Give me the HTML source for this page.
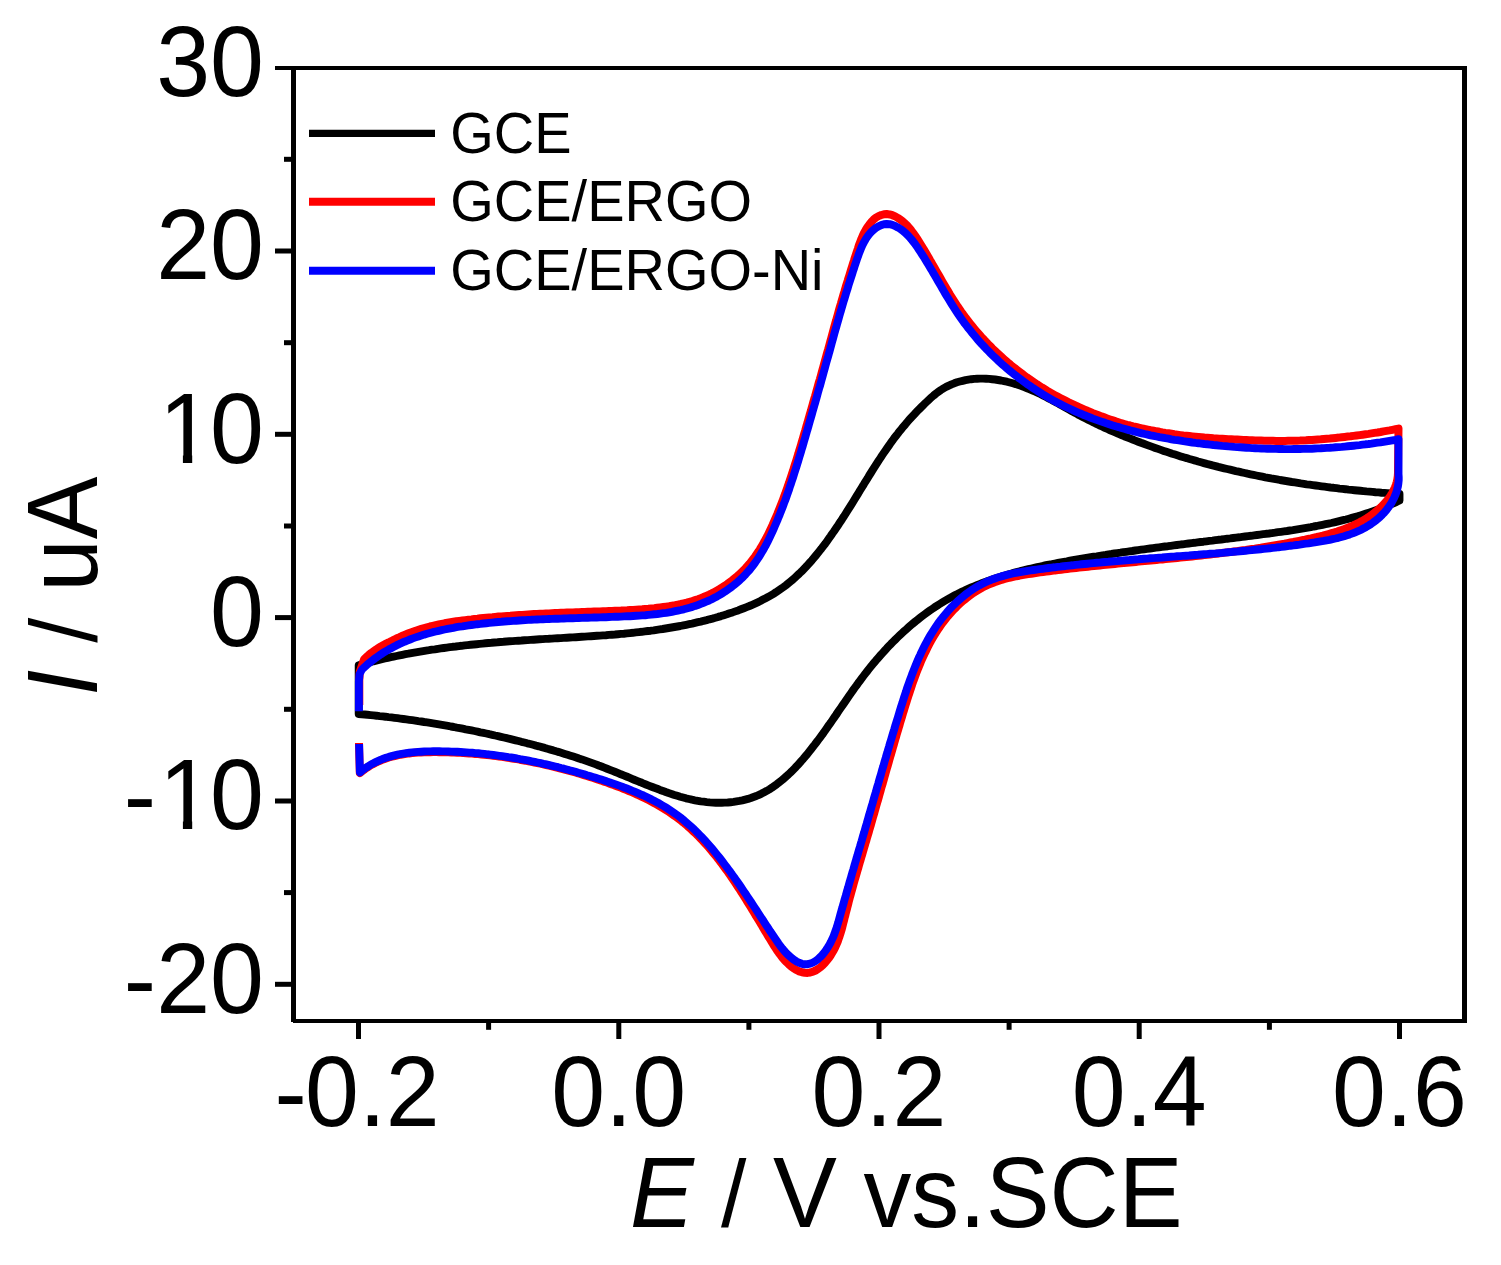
<!DOCTYPE html>
<html lang="en">
<head>
<meta charset="utf-8">
<title>Cyclic voltammograms: GCE, GCE/ERGO, GCE/ERGO-Ni</title>
<style>
html,body{margin:0;padding:0;background:#fff;}
body{width:1501px;height:1265px;overflow:hidden;}
svg{display:block;}
</style>
</head>
<body>
<svg width="1501" height="1265" viewBox="0 0 1501 1265">
<rect width="1501" height="1265" fill="#fff"/>
<g fill="none" stroke-linejoin="round" stroke-linecap="butt">
<path d="M358.7 668.0L358.7 665.2L361.6 664.4L364.5 663.6L367.4 662.8L370.3 662.1L373.2 661.3L376.1 660.6L379.0 659.9L381.9 659.2L384.9 658.5L387.8 657.9L390.7 657.2L393.6 656.6L396.6 656.0L399.5 655.4L402.4 654.8L405.4 654.2L408.3 653.7L411.3 653.1L414.2 652.6L417.2 652.1L420.1 651.6L423.1 651.1L426.0 650.6L429.0 650.2L431.9 649.7L434.9 649.3L437.9 648.8L440.8 648.4L443.8 648.0L446.8 647.6L449.7 647.2L452.7 646.8L455.7 646.5L458.7 646.1L461.6 645.8L464.6 645.4L467.6 645.1L470.6 644.8L473.6 644.5L476.6 644.2L479.5 643.9L482.5 643.6L485.5 643.3L488.5 643.0L491.5 642.8L494.5 642.5L497.5 642.3L500.5 642.0L503.5 641.8L506.5 641.5L509.5 641.3L512.5 641.1L515.5 640.9L518.5 640.7L521.5 640.5L524.6 640.2L527.6 640.1L530.6 639.9L533.6 639.7L536.6 639.5L539.6 639.3L542.6 639.1L545.6 638.9L548.6 638.8L551.7 638.6L554.7 638.4L557.7 638.2L560.7 638.1L563.7 637.9L566.7 637.7L569.8 637.5L572.8 637.4L575.8 637.2L578.8 637.0L581.8 636.8L584.8 636.6L587.8 636.4L590.9 636.2L593.9 636.0L596.9 635.8L599.9 635.6L602.9 635.4L605.9 635.2L608.9 634.9L611.9 634.7L614.9 634.5L617.9 634.2L620.9 633.9L623.9 633.7L626.9 633.4L629.9 633.1L632.9 632.8L635.9 632.4L638.9 632.1L641.8 631.8L644.8 631.4L647.8 631.0L650.8 630.7L653.7 630.3L656.7 629.8L659.7 629.4L662.6 629.0L665.6 628.5L668.5 628.0L671.5 627.5L674.4 627.0L677.4 626.5L680.3 626.0L683.3 625.4L686.2 624.8L689.1 624.2L692.1 623.6L695.0 622.9L697.9 622.2L700.8 621.6L703.7 620.8L706.6 620.1L709.5 619.3L712.4 618.6L715.3 617.8L718.2 616.9L721.0 616.1L723.9 615.2L726.8 614.3L729.6 613.3L732.5 612.4L735.3 611.4L738.2 610.4L741.0 609.3L743.8 608.2L746.6 607.1L749.4 606.0L752.2 604.8L754.9 603.6L757.7 602.3L760.4 601.0L763.0 599.6L765.7 598.2L768.3 596.8L770.9 595.3L773.5 593.8L776.0 592.2L778.5 590.5L781.0 588.8L783.4 587.1L785.8 585.3L788.2 583.4L790.5 581.5L792.8 579.6L795.0 577.6L797.2 575.5L799.4 573.5L801.6 571.4L803.7 569.2L805.8 567.0L807.8 564.8L809.9 562.5L811.9 560.3L813.8 558.0L815.8 555.6L817.7 553.3L819.6 550.9L821.5 548.5L823.3 546.1L825.2 543.7L827.0 541.2L828.7 538.8L830.5 536.3L832.2 533.8L834.0 531.3L835.7 528.8L837.4 526.3L839.0 523.8L840.7 521.3L842.3 518.8L844.0 516.3L845.6 513.7L847.2 511.2L848.8 508.7L850.4 506.1L852.0 503.6L853.6 501.0L855.1 498.5L856.7 495.9L858.3 493.4L859.8 490.8L861.4 488.2L863.0 485.7L864.5 483.1L866.1 480.6L867.7 478.1L869.2 475.5L870.8 473.0L872.4 470.4L874.0 467.9L875.6 465.4L877.2 462.9L878.8 460.4L880.5 457.9L882.1 455.4L883.8 452.9L885.5 450.5L887.2 448.0L888.9 445.6L890.6 443.1L892.4 440.7L894.1 438.3L895.9 436.0L897.8 433.6L899.6 431.2L901.5 428.9L903.4 426.6L905.4 424.3L907.3 422.0L909.3 419.7L911.3 417.5L913.4 415.3L915.5 413.0L917.6 410.8L919.8 408.6L922.0 406.4L924.2 404.2L926.5 402.0L928.8 399.8L931.1 397.7L933.5 395.6L935.9 393.6L938.4 391.8L940.9 390.0L943.5 388.4L946.1 386.9L948.8 385.6L951.5 384.4L954.2 383.3L957.0 382.3L959.8 381.5L962.7 380.8L965.5 380.1L968.4 379.6L971.3 379.2L974.3 378.9L977.2 378.7L980.2 378.6L983.1 378.6L986.1 378.7L989.1 378.9L992.1 379.2L995.1 379.5L998.0 380.0L1001.0 380.5L1004.0 381.1L1006.9 381.7L1009.9 382.5L1012.8 383.3L1015.7 384.1L1018.6 385.1L1021.5 386.0L1024.3 387.1L1027.1 388.2L1029.9 389.3L1032.7 390.5L1035.4 391.7L1038.1 393.0L1040.8 394.3L1043.5 395.7L1046.2 397.0L1048.8 398.4L1051.5 399.8L1054.1 401.3L1056.8 402.7L1059.4 404.2L1062.0 405.6L1064.6 407.1L1067.3 408.6L1069.9 410.0L1072.5 411.5L1075.2 412.9L1077.8 414.4L1080.4 415.8L1083.1 417.2L1085.8 418.6L1088.5 420.0L1091.2 421.3L1093.9 422.6L1096.6 424.0L1099.3 425.3L1102.0 426.5L1104.8 427.8L1107.5 429.0L1110.3 430.3L1113.0 431.5L1115.8 432.7L1118.6 433.9L1121.4 435.0L1124.2 436.2L1127.0 437.3L1129.8 438.4L1132.6 439.5L1135.4 440.6L1138.2 441.7L1141.0 442.8L1143.8 443.8L1146.7 444.9L1149.5 445.9L1152.3 446.9L1155.2 447.9L1158.0 448.9L1160.8 449.9L1163.7 450.9L1166.5 451.8L1169.4 452.7L1172.2 453.7L1175.1 454.6L1178.0 455.5L1180.8 456.4L1183.7 457.3L1186.6 458.1L1189.5 459.0L1192.3 459.8L1195.2 460.6L1198.1 461.5L1201.0 462.3L1203.9 463.1L1206.8 463.9L1209.7 464.6L1212.6 465.4L1215.5 466.1L1218.4 466.9L1221.3 467.6L1224.2 468.3L1227.2 469.0L1230.1 469.7L1233.0 470.4L1235.9 471.1L1238.8 471.7L1241.8 472.4L1244.7 473.0L1247.6 473.7L1250.6 474.3L1253.5 474.9L1256.4 475.5L1259.4 476.1L1262.3 476.7L1265.3 477.3L1268.2 477.8L1271.2 478.4L1274.1 478.9L1277.1 479.4L1280.0 480.0L1283.0 480.5L1286.0 481.0L1288.9 481.5L1291.9 482.0L1294.9 482.4L1297.8 482.9L1300.8 483.4L1303.8 483.8L1306.7 484.3L1309.7 484.7L1312.7 485.1L1315.7 485.5L1318.7 485.9L1321.6 486.3L1324.6 486.7L1327.6 487.1L1330.6 487.5L1333.6 487.8L1336.6 488.2L1339.5 488.6L1342.5 488.9L1345.5 489.2L1348.5 489.6L1351.5 489.9L1354.5 490.2L1357.5 490.5L1360.5 490.8L1363.5 491.1L1366.5 491.4L1369.5 491.6L1372.5 491.9L1375.5 492.2L1378.5 492.4L1381.5 492.7L1384.5 492.9L1387.5 493.1L1390.5 493.4L1393.5 493.6L1396.5 493.8L1399.5 494.0L1399.5 500.5L1396.8 501.8L1394.0 503.0L1391.3 504.2L1388.5 505.4L1385.8 506.5L1383.0 507.6L1380.2 508.7L1377.4 509.7L1374.6 510.7L1371.8 511.7L1368.9 512.7L1366.1 513.6L1363.2 514.5L1360.4 515.4L1357.5 516.3L1354.7 517.1L1351.8 517.9L1348.9 518.7L1346.0 519.5L1343.1 520.2L1340.2 520.9L1337.3 521.6L1334.3 522.3L1331.4 523.0L1328.5 523.6L1325.5 524.2L1322.6 524.8L1319.7 525.4L1316.7 526.0L1313.7 526.5L1310.8 527.1L1307.8 527.6L1304.9 528.1L1301.9 528.6L1298.9 529.1L1295.9 529.6L1292.9 530.1L1290.0 530.5L1287.0 531.0L1284.0 531.4L1281.0 531.8L1278.0 532.2L1275.0 532.7L1272.0 533.1L1269.0 533.5L1266.1 533.8L1263.1 534.2L1260.1 534.6L1257.1 535.0L1254.1 535.4L1251.1 535.8L1248.1 536.1L1245.1 536.5L1242.2 536.9L1239.2 537.3L1236.2 537.6L1233.2 538.0L1230.2 538.4L1227.3 538.7L1224.3 539.1L1221.3 539.5L1218.3 539.8L1215.4 540.2L1212.4 540.6L1209.4 540.9L1206.4 541.3L1203.5 541.7L1200.5 542.0L1197.5 542.4L1194.6 542.8L1191.6 543.1L1188.6 543.5L1185.7 543.9L1182.7 544.3L1179.7 544.6L1176.8 545.0L1173.8 545.4L1170.8 545.8L1167.9 546.2L1164.9 546.5L1162.0 546.9L1159.0 547.3L1156.0 547.7L1153.1 548.1L1150.1 548.5L1147.1 548.9L1144.2 549.3L1141.2 549.7L1138.2 550.1L1135.3 550.5L1132.3 551.0L1129.3 551.4L1126.4 551.8L1123.4 552.2L1120.4 552.7L1117.5 553.1L1114.5 553.5L1111.5 554.0L1108.6 554.4L1105.6 554.9L1102.6 555.3L1099.7 555.8L1096.7 556.3L1093.7 556.7L1090.7 557.2L1087.8 557.7L1084.8 558.2L1081.8 558.7L1078.8 559.2L1075.8 559.7L1072.8 560.2L1069.9 560.7L1066.9 561.3L1063.9 561.8L1060.9 562.3L1057.9 562.9L1055.0 563.5L1052.0 564.1L1049.0 564.6L1046.0 565.2L1043.1 565.9L1040.1 566.5L1037.2 567.1L1034.2 567.8L1031.3 568.5L1028.3 569.2L1025.4 569.9L1022.5 570.6L1019.5 571.4L1016.6 572.1L1013.7 572.9L1010.8 573.7L1007.9 574.5L1005.0 575.4L1002.2 576.3L999.3 577.2L996.5 578.1L993.6 579.0L990.8 580.0L988.0 581.0L985.2 582.0L982.4 583.0L979.6 584.1L976.8 585.2L974.1 586.3L971.3 587.5L968.6 588.7L965.9 589.9L963.2 591.2L960.5 592.4L957.9 593.8L955.2 595.1L952.6 596.5L950.0 597.9L947.4 599.4L944.8 600.9L942.3 602.4L939.7 604.0L937.2 605.6L934.7 607.2L932.3 608.9L929.8 610.6L927.4 612.3L924.9 614.1L922.5 615.9L920.2 617.7L917.8 619.6L915.5 621.4L913.1 623.4L910.8 625.3L908.5 627.3L906.3 629.3L904.0 631.3L901.8 633.3L899.6 635.4L897.4 637.5L895.3 639.6L893.1 641.8L891.0 643.9L888.9 646.1L886.8 648.3L884.8 650.5L882.7 652.8L880.7 655.0L878.7 657.3L876.7 659.6L874.8 661.9L872.8 664.2L870.9 666.5L869.0 668.9L867.2 671.2L865.3 673.6L863.5 676.0L861.7 678.4L859.9 680.8L858.1 683.2L856.4 685.6L854.6 688.0L852.9 690.4L851.2 692.9L849.5 695.3L847.8 697.7L846.1 700.2L844.4 702.7L842.7 705.1L841.0 707.6L839.3 710.0L837.6 712.5L836.0 715.0L834.3 717.4L832.6 719.9L830.9 722.4L829.1 724.8L827.4 727.3L825.7 729.7L823.9 732.2L822.2 734.7L820.4 737.1L818.6 739.5L816.7 742.0L814.9 744.4L813.0 746.8L811.1 749.2L809.2 751.7L807.3 754.1L805.3 756.4L803.3 758.8L801.2 761.1L799.2 763.5L797.1 765.7L795.0 768.0L792.8 770.2L790.6 772.4L788.4 774.5L786.1 776.5L783.8 778.6L781.5 780.5L779.1 782.4L776.8 784.2L774.3 786.0L771.9 787.7L769.4 789.3L766.8 790.8L764.2 792.2L761.6 793.6L759.0 794.8L756.3 796.0L753.5 797.0L750.8 798.0L748.0 798.9L745.2 799.6L742.3 800.3L739.4 800.9L736.5 801.4L733.6 801.9L730.7 802.2L727.7 802.5L724.8 802.6L721.8 802.7L718.8 802.8L715.8 802.7L712.8 802.6L709.8 802.4L706.8 802.1L703.8 801.7L700.8 801.3L697.9 800.8L694.9 800.3L691.9 799.7L689.0 799.0L686.0 798.3L683.1 797.5L680.2 796.7L677.3 795.8L674.4 794.9L671.5 793.9L668.6 793.0L665.7 792.0L662.9 790.9L660.0 789.9L657.2 788.8L654.4 787.8L651.6 786.7L648.7 785.6L645.9 784.5L643.1 783.4L640.4 782.2L637.6 781.1L634.8 780.0L632.0 778.8L629.3 777.7L626.5 776.5L623.7 775.4L620.9 774.3L618.2 773.1L615.4 772.0L612.6 770.9L609.9 769.8L607.1 768.7L604.3 767.6L601.5 766.5L598.7 765.5L595.9 764.4L593.1 763.4L590.3 762.4L587.5 761.4L584.7 760.4L581.9 759.4L579.0 758.5L576.2 757.5L573.3 756.6L570.5 755.7L567.6 754.8L564.8 753.9L561.9 753.0L559.0 752.1L556.2 751.3L553.3 750.4L550.4 749.6L547.5 748.8L544.7 747.9L541.8 747.1L538.9 746.3L536.0 745.6L533.1 744.8L530.2 744.0L527.3 743.3L524.3 742.5L521.4 741.8L518.5 741.0L515.6 740.3L512.7 739.6L509.8 738.9L506.8 738.2L503.9 737.5L501.0 736.8L498.1 736.1L495.1 735.5L492.2 734.8L489.3 734.2L486.3 733.5L483.4 732.9L480.4 732.3L477.5 731.6L474.5 731.0L471.6 730.4L468.6 729.8L465.7 729.3L462.7 728.7L459.8 728.1L456.8 727.6L453.9 727.0L450.9 726.5L448.0 725.9L445.0 725.4L442.0 724.9L439.1 724.4L436.1 723.9L433.1 723.4L430.2 722.9L427.2 722.4L424.2 722.0L421.3 721.5L418.3 721.1L415.3 720.6L412.3 720.2L409.4 719.8L406.4 719.4L403.4 719.0L400.4 718.6L397.5 718.2L394.5 717.8L391.5 717.4L388.5 717.1L385.5 716.7L382.6 716.4L379.6 716.1L376.6 715.7L373.6 715.4L370.6 715.1L367.6 714.8L364.7 714.5L361.7 714.3L358.7 714.0Z" stroke="#000" stroke-width="7.9"/>
<path d="M359.3 705.0L359.3 680.0L359.8 671.5L364.2 659.1L366.5 657.0L368.8 654.9L371.2 652.9L373.6 651.2L376.0 649.5L378.5 647.9L380.9 646.4L383.4 645.0L386.0 643.7L388.6 642.5L391.2 641.2L393.8 639.8L396.4 638.5L399.1 637.3L401.8 636.0L404.5 634.9L407.3 633.8L410.0 632.7L412.8 631.7L415.6 630.7L418.5 629.8L421.3 628.9L424.2 628.1L427.0 627.3L429.9 626.5L432.8 625.8L435.7 625.1L438.7 624.5L441.6 623.9L444.5 623.3L447.5 622.8L450.5 622.3L453.4 621.8L456.4 621.3L459.4 620.9L462.4 620.5L465.4 620.1L468.4 619.7L471.4 619.4L474.4 619.0L477.4 618.7L480.4 618.3L483.4 618.0L486.4 617.7L489.3 617.4L492.3 617.2L495.3 616.9L498.3 616.6L501.3 616.4L504.3 616.2L507.3 616.0L510.3 615.8L513.2 615.5L516.2 615.3L519.2 615.1L522.2 614.9L525.2 614.7L528.2 614.5L531.1 614.3L534.1 614.1L537.1 614.0L540.1 613.8L543.1 613.7L546.0 613.5L549.0 613.4L552.0 613.2L555.0 613.1L558.0 613.0L561.0 612.8L563.9 612.7L566.9 612.6L569.9 612.5L572.9 612.4L575.9 612.3L578.9 612.2L581.9 612.1L584.9 612.0L587.9 611.8L590.9 611.7L593.9 611.6L596.9 611.5L599.9 611.4L602.9 611.3L605.9 611.2L608.9 611.1L612.0 611.0L615.0 610.8L618.0 610.7L621.0 610.6L624.1 610.4L627.1 610.3L630.1 610.1L633.1 609.9L636.2 609.7L639.2 609.5L642.2 609.3L645.3 609.0L648.3 608.8L651.3 608.5L654.3 608.2L657.3 607.8L660.3 607.4L663.3 607.0L666.2 606.6L669.2 606.2L672.1 605.7L675.1 605.2L678.0 604.6L680.9 604.0L683.8 603.3L686.7 602.6L689.6 601.8L692.4 601.0L695.2 600.1L698.0 599.2L700.8 598.1L703.6 597.0L706.3 595.8L709.1 594.6L711.8 593.3L714.4 591.9L717.1 590.4L719.7 588.9L722.2 587.3L724.8 585.7L727.3 584.0L729.7 582.2L732.1 580.4L734.5 578.5L736.8 576.6L739.1 574.6L741.3 572.5L743.4 570.4L745.5 568.2L747.5 566.0L749.5 563.7L751.4 561.4L753.2 559.0L755.0 556.6L756.7 554.1L758.4 551.6L760.0 549.1L761.5 546.5L763.1 543.9L764.5 541.2L766.0 538.6L767.4 535.9L768.7 533.2L770.0 530.4L771.3 527.7L772.6 524.9L773.8 522.1L775.0 519.3L776.2 516.6L777.4 513.8L778.5 511.0L779.7 508.1L780.8 505.3L781.9 502.5L783.0 499.6L784.0 496.8L785.1 494.0L786.1 491.1L787.1 488.3L788.1 485.4L789.1 482.6L790.0 479.7L791.0 476.8L791.9 474.0L792.9 471.1L793.8 468.2L794.7 465.3L795.6 462.5L796.5 459.6L797.4 456.7L798.3 453.8L799.1 451.0L800.0 448.1L800.9 445.2L801.7 442.3L802.6 439.5L803.4 436.6L804.2 433.7L805.1 430.9L805.9 428.0L806.7 425.1L807.6 422.3L808.4 419.4L809.2 416.5L810.0 413.6L810.9 410.8L811.7 407.9L812.5 405.0L813.3 402.1L814.1 399.3L815.0 396.4L815.8 393.5L816.6 390.6L817.4 387.7L818.2 384.8L819.0 381.9L819.9 379.1L820.7 376.2L821.5 373.3L822.3 370.4L823.1 367.5L823.9 364.5L824.7 361.6L825.5 358.7L826.3 355.8L827.1 352.9L828.0 349.9L828.8 347.0L829.6 344.1L830.4 341.1L831.2 338.2L832.0 335.2L832.8 332.3L833.6 329.3L834.4 326.4L835.2 323.5L836.1 320.5L836.9 317.6L837.7 314.7L838.5 311.8L839.3 308.9L840.1 306.1L841.0 303.2L841.8 300.4L842.6 297.6L843.4 294.7L844.3 291.9L845.1 289.1L845.9 286.3L846.8 283.5L847.7 280.7L848.5 277.9L849.4 275.1L850.3 272.2L851.2 269.3L852.1 266.4L853.0 263.5L854.0 260.5L854.9 257.5L855.9 254.5L856.9 251.4L858.0 248.2L859.0 245.0L860.2 241.9L861.4 238.8L862.7 235.7L864.1 232.7L865.7 229.9L867.4 227.1L869.3 224.5L871.3 222.0L873.5 219.6L875.9 217.6L878.5 216.1L881.2 215.0L883.9 214.3L886.7 214.1L889.6 214.4L892.4 215.2L895.2 216.4L897.8 217.9L900.4 219.6L902.8 221.5L905.1 223.5L907.3 225.7L909.4 228.1L911.4 230.6L913.3 233.1L915.2 235.8L917.0 238.5L918.7 241.2L920.4 243.9L922.1 246.6L923.8 249.3L925.4 252.0L927.0 254.8L928.6 257.5L930.1 260.2L931.7 262.9L933.2 265.6L934.8 268.3L936.3 270.9L937.8 273.5L939.3 276.1L940.8 278.8L942.3 281.4L943.8 284.0L945.3 286.6L946.8 289.1L948.4 291.7L949.9 294.3L951.5 296.8L953.1 299.3L954.7 301.8L956.3 304.3L957.9 306.8L959.6 309.3L961.3 311.8L963.1 314.2L964.8 316.6L966.6 319.0L968.4 321.4L970.3 323.7L972.2 326.0L974.1 328.4L976.0 330.7L977.9 332.9L979.9 335.2L981.9 337.4L984.0 339.6L986.0 341.8L988.1 344.0L990.2 346.1L992.3 348.3L994.5 350.4L996.7 352.5L998.9 354.5L1001.1 356.5L1003.3 358.6L1005.6 360.5L1007.9 362.5L1010.2 364.4L1012.5 366.4L1014.9 368.2L1017.3 370.1L1019.6 371.9L1022.1 373.8L1024.5 375.6L1026.9 377.4L1029.4 379.1L1031.9 380.8L1034.4 382.5L1036.9 384.2L1039.4 385.8L1042.0 387.5L1044.5 389.0L1047.1 390.6L1049.7 392.1L1052.3 393.6L1054.9 395.1L1057.6 396.6L1060.2 398.0L1062.9 399.4L1065.5 400.7L1068.2 402.1L1070.9 403.4L1073.7 404.7L1076.4 405.9L1079.1 407.2L1081.9 408.4L1084.6 409.6L1087.4 410.8L1090.2 411.9L1093.0 413.1L1095.8 414.2L1098.6 415.3L1101.4 416.4L1104.3 417.4L1107.1 418.4L1109.9 419.4L1112.8 420.4L1115.7 421.4L1118.6 422.3L1121.4 423.2L1124.3 424.0L1127.2 424.8L1130.1 425.5L1133.1 426.3L1136.0 427.0L1138.9 427.7L1141.8 428.3L1144.8 429.0L1147.7 429.6L1150.7 430.2L1153.6 430.7L1156.6 431.3L1159.5 431.8L1162.5 432.4L1165.5 432.9L1168.5 433.3L1171.4 433.8L1174.4 434.3L1177.4 434.7L1180.4 435.1L1183.4 435.5L1186.4 435.8L1189.4 436.1L1192.4 436.4L1195.4 436.7L1198.4 437.0L1201.4 437.3L1204.4 437.6L1207.4 437.8L1210.4 438.0L1213.4 438.3L1216.4 438.5L1219.4 438.7L1222.3 438.8L1225.3 439.0L1228.3 439.2L1231.3 439.3L1234.3 439.5L1237.3 439.6L1240.3 439.7L1243.3 439.9L1246.3 440.0L1249.3 440.2L1252.3 440.3L1255.2 440.4L1258.2 440.5L1261.2 440.6L1264.2 440.7L1267.2 440.7L1270.2 440.8L1273.1 440.8L1276.1 440.9L1279.1 440.9L1282.1 440.9L1285.1 440.9L1288.0 440.8L1291.0 440.8L1294.0 440.7L1297.0 440.7L1300.0 440.6L1302.9 440.4L1305.9 440.3L1308.9 440.1L1311.9 439.9L1314.9 439.7L1317.8 439.5L1320.8 439.3L1323.8 439.0L1326.8 438.7L1329.8 438.5L1332.7 438.2L1335.7 437.9L1338.7 437.6L1341.7 437.2L1344.7 436.9L1347.6 436.6L1350.6 436.3L1353.6 435.9L1356.6 435.5L1359.6 435.1L1362.6 434.7L1365.6 434.3L1368.6 433.9L1371.5 433.4L1374.5 432.9L1377.5 432.5L1380.5 432.0L1383.5 431.4L1386.5 430.9L1389.5 430.4L1392.5 429.8L1395.5 429.2L1398.5 428.6L1398.0 470.0L1398.0 473.1L1397.8 476.1L1397.4 479.0L1396.8 481.9L1395.9 484.8L1394.9 487.5L1393.6 490.2L1392.3 492.8L1390.7 495.4L1389.0 497.9L1387.2 500.3L1385.3 502.6L1383.2 504.8L1381.1 507.0L1378.9 509.0L1376.6 511.0L1374.2 512.9L1371.8 514.7L1369.4 516.4L1366.9 518.1L1364.4 519.6L1361.8 521.1L1359.2 522.5L1356.5 523.8L1353.9 525.1L1351.2 526.3L1348.4 527.4L1345.7 528.5L1342.9 529.6L1340.0 530.5L1337.2 531.5L1334.4 532.4L1331.5 533.2L1328.6 534.0L1325.7 534.8L1322.8 535.6L1319.8 536.3L1316.9 537.0L1314.0 537.6L1311.0 538.3L1308.1 538.9L1305.1 539.6L1302.2 540.2L1299.2 540.8L1296.3 541.4L1293.3 542.0L1290.4 542.5L1287.4 543.1L1284.5 543.7L1281.5 544.2L1278.5 544.7L1275.6 545.2L1272.6 545.7L1269.7 546.2L1266.7 546.7L1263.7 547.2L1260.8 547.7L1257.8 548.1L1254.8 548.6L1251.9 549.0L1248.9 549.4L1245.9 549.9L1242.9 550.3L1240.0 550.7L1237.0 551.1L1234.0 551.5L1231.0 551.9L1228.1 552.3L1225.1 552.6L1222.1 553.0L1219.1 553.4L1216.2 553.7L1213.2 554.1L1210.2 554.4L1207.2 554.7L1204.2 555.1L1201.3 555.4L1198.3 555.7L1195.3 556.1L1192.3 556.4L1189.3 556.7L1186.4 557.0L1183.4 557.3L1180.4 557.6L1177.4 557.9L1174.4 558.2L1171.4 558.5L1168.5 558.8L1165.5 559.1L1162.5 559.4L1159.5 559.6L1156.5 559.9L1153.5 560.2L1150.6 560.5L1147.6 560.8L1144.6 561.1L1141.6 561.3L1138.6 561.6L1135.7 561.9L1132.7 562.2L1129.7 562.5L1126.7 562.8L1123.7 563.1L1120.7 563.3L1117.8 563.6L1114.8 563.9L1111.8 564.2L1108.8 564.5L1105.8 564.8L1102.9 565.1L1099.9 565.4L1096.9 565.7L1093.9 566.0L1090.9 566.3L1087.9 566.7L1085.0 567.0L1082.0 567.3L1079.0 567.6L1076.0 568.0L1073.0 568.3L1070.0 568.6L1067.1 569.0L1064.1 569.3L1061.1 569.7L1058.1 570.1L1055.1 570.4L1052.1 570.8L1049.1 571.2L1046.1 571.6L1043.1 572.0L1040.1 572.4L1037.2 572.8L1034.2 573.2L1031.2 573.7L1028.2 574.1L1025.2 574.6L1022.2 575.1L1019.3 575.7L1016.3 576.2L1013.4 576.9L1010.5 577.5L1007.6 578.2L1004.7 579.0L1001.8 579.8L999.0 580.7L996.2 581.6L993.4 582.7L990.6 583.8L987.9 584.9L985.2 586.2L982.5 587.5L979.9 589.0L977.3 590.5L974.7 592.1L972.2 593.8L969.8 595.6L967.3 597.4L965.0 599.3L962.6 601.3L960.3 603.3L958.1 605.3L956.0 607.5L953.8 609.6L951.8 611.8L949.8 614.0L947.8 616.3L946.0 618.6L944.1 621.0L942.3 623.3L940.6 625.7L938.9 628.2L937.3 630.7L935.7 633.1L934.1 635.7L932.6 638.2L931.1 640.8L929.7 643.4L928.3 646.0L927.0 648.7L925.7 651.4L924.4 654.0L923.1 656.8L921.9 659.5L920.7 662.2L919.6 665.0L918.4 667.8L917.3 670.6L916.2 673.4L915.2 676.2L914.2 679.0L913.1 681.9L912.1 684.7L911.2 687.6L910.2 690.5L909.3 693.4L908.3 696.2L907.4 699.1L906.5 702.0L905.6 704.9L904.7 707.8L903.8 710.7L902.9 713.6L902.1 716.5L901.2 719.4L900.3 722.3L899.5 725.2L898.6 728.1L897.8 730.9L896.9 733.8L896.1 736.7L895.2 739.6L894.4 742.5L893.6 745.4L892.7 748.3L891.9 751.1L891.1 754.0L890.2 756.9L889.4 759.8L888.6 762.7L887.8 765.5L886.9 768.4L886.1 771.3L885.3 774.2L884.5 777.0L883.7 779.9L882.9 782.8L882.0 785.7L881.2 788.5L880.4 791.4L879.6 794.3L878.8 797.1L878.0 800.0L877.1 802.9L876.3 805.8L875.5 808.6L874.7 811.5L873.9 814.4L873.0 817.2L872.2 820.1L871.4 823.0L870.6 825.8L869.7 828.7L868.9 831.6L868.1 834.4L867.2 837.3L866.4 840.2L865.5 843.0L864.7 845.9L863.8 848.8L863.0 851.6L862.2 854.5L861.3 857.4L860.5 860.3L859.6 863.1L858.8 866.0L858.0 868.9L857.1 871.8L856.3 874.6L855.5 877.5L854.6 880.4L853.8 883.3L853.0 886.2L852.2 889.1L851.4 892.0L850.6 894.9L849.8 897.8L849.0 900.7L848.3 903.7L847.5 906.6L846.8 909.5L846.0 912.4L845.3 915.4L844.5 918.3L843.8 921.3L843.0 924.2L842.3 927.1L841.5 930.1L840.6 933.0L839.7 935.9L838.7 938.7L837.7 941.6L836.5 944.4L835.3 947.1L833.9 949.9L832.4 952.5L830.8 955.2L829.1 957.8L827.1 960.3L825.1 962.7L822.9 965.0L820.6 967.1L818.2 968.9L815.6 970.5L813.0 971.7L810.3 972.5L807.6 972.9L804.8 972.8L802.0 972.3L799.2 971.4L796.4 970.0L793.7 968.4L791.2 966.5L788.8 964.4L786.5 962.2L784.3 959.9L782.3 957.6L780.5 955.2L778.7 952.8L777.0 950.4L775.4 947.9L773.8 945.5L772.3 943.0L770.8 940.4L769.2 937.9L767.7 935.4L766.2 932.8L764.6 930.3L763.1 927.7L761.6 925.1L760.0 922.5L758.5 920.0L756.9 917.4L755.3 914.8L753.8 912.2L752.2 909.6L750.6 907.0L749.0 904.4L747.4 901.8L745.8 899.2L744.2 896.6L742.6 894.1L740.9 891.5L739.3 888.9L737.6 886.4L735.9 883.8L734.2 881.3L732.5 878.8L730.8 876.2L729.0 873.7L727.3 871.3L725.5 868.8L723.7 866.3L721.9 863.9L720.1 861.5L718.2 859.1L716.4 856.7L714.5 854.4L712.6 852.1L710.7 849.8L708.7 847.5L706.7 845.2L704.7 843.0L702.7 840.8L700.7 838.7L698.6 836.5L696.5 834.4L694.3 832.4L692.2 830.3L690.0 828.3L687.8 826.4L685.6 824.4L683.3 822.5L681.0 820.7L678.7 818.9L676.3 817.1L673.9 815.4L671.5 813.7L669.0 812.0L666.5 810.4L664.0 808.8L661.5 807.3L658.9 805.8L656.4 804.3L653.8 802.9L651.1 801.5L648.5 800.1L645.8 798.7L643.1 797.4L640.4 796.1L637.7 794.9L635.0 793.6L632.2 792.4L629.4 791.3L626.7 790.1L623.9 789.0L621.1 787.8L618.2 786.8L615.4 785.7L612.6 784.6L609.7 783.6L606.9 782.6L604.0 781.6L601.2 780.6L598.3 779.7L595.4 778.7L592.6 777.8L589.7 776.9L586.8 776.0L583.9 775.1L581.0 774.2L578.2 773.3L575.3 772.5L572.4 771.7L569.5 770.9L566.6 770.1L563.7 769.3L560.8 768.6L557.9 767.8L554.9 767.1L552.0 766.4L549.1 765.7L546.2 765.0L543.3 764.3L540.3 763.7L537.4 763.1L534.5 762.5L531.5 761.9L528.6 761.3L525.6 760.7L522.7 760.2L519.8 759.7L516.8 759.1L513.9 758.7L510.9 758.2L507.9 757.7L505.0 757.3L502.0 756.9L499.0 756.5L496.1 756.1L493.1 755.7L490.1 755.3L487.2 755.0L484.2 754.7L481.2 754.4L478.2 754.1L475.2 753.9L472.2 753.6L469.2 753.4L466.2 753.2L463.3 753.0L460.3 752.8L457.3 752.7L454.2 752.5L451.2 752.4L448.2 752.3L445.2 752.2L442.2 752.2L439.2 752.2L436.2 752.1L433.2 752.1L430.2 752.2L427.1 752.2L424.1 752.3L421.1 752.4L418.1 752.6L415.1 752.8L412.2 753.1L409.2 753.4L406.2 753.8L403.3 754.2L400.4 754.7L397.5 755.3L394.6 756.0L391.8 756.7L388.9 757.5L386.1 758.4L383.3 759.4L380.6 760.5L377.9 761.7L375.2 763.0L372.5 764.4L369.9 765.9L367.3 767.5L364.8 769.2L362.3 771.1L359.8 773.1L359.0 743.0" stroke="#f00" stroke-width="8.0"/>
<path d="M358.9 711.2L358.9 681.0L359.6 674.0L362.0 669.5L364.2 667.4L366.5 665.3L368.8 663.3L371.2 661.4L373.6 659.5L376.0 657.7L378.5 656.0L380.9 654.3L383.4 652.7L386.0 651.1L388.6 649.6L391.2 648.2L393.8 646.8L396.4 645.4L399.1 644.1L401.8 642.9L404.5 641.7L407.3 640.6L410.0 639.5L412.8 638.4L415.6 637.4L418.5 636.4L421.3 635.5L424.2 634.6L427.0 633.8L429.9 633.0L432.8 632.2L435.7 631.5L438.7 630.8L441.6 630.1L444.5 629.5L447.5 628.9L450.5 628.3L453.4 627.8L456.4 627.2L459.4 626.7L462.4 626.3L465.4 625.8L468.4 625.4L471.4 625.0L474.4 624.6L477.4 624.2L480.4 623.9L483.4 623.5L486.4 623.2L489.3 622.9L492.3 622.6L495.3 622.3L498.3 622.0L501.3 621.8L504.3 621.5L507.3 621.3L510.3 621.1L513.2 620.9L516.2 620.7L519.2 620.5L522.2 620.3L525.2 620.1L528.2 619.9L531.1 619.8L534.1 619.6L537.1 619.5L540.1 619.4L543.1 619.2L546.0 619.1L549.0 619.0L552.0 618.9L555.0 618.8L558.0 618.7L561.0 618.6L563.9 618.5L566.9 618.4L569.9 618.3L572.9 618.2L575.9 618.1L578.9 618.0L581.9 617.9L584.9 617.8L587.9 617.7L590.9 617.6L593.9 617.5L596.9 617.5L599.9 617.4L602.9 617.3L605.9 617.2L608.9 617.0L612.0 616.9L615.0 616.8L618.0 616.7L621.0 616.6L624.1 616.4L627.1 616.3L630.1 616.2L633.1 616.0L636.2 615.8L639.2 615.6L642.2 615.4L645.3 615.2L648.3 614.9L651.3 614.6L654.3 614.3L657.3 614.0L660.3 613.6L663.3 613.2L666.2 612.8L669.2 612.3L672.1 611.8L675.1 611.2L678.0 610.6L680.9 610.0L683.8 609.3L686.7 608.5L689.6 607.7L692.4 606.9L695.2 605.9L698.0 605.0L700.8 603.9L703.6 602.8L706.3 601.7L709.1 600.5L711.8 599.2L714.4 597.8L717.1 596.4L719.7 594.9L722.2 593.3L724.8 591.7L727.3 590.0L729.7 588.3L732.1 586.5L734.5 584.6L736.8 582.7L739.1 580.7L741.3 578.7L743.4 576.6L745.5 574.4L747.5 572.2L749.5 570.0L751.4 567.6L753.2 565.3L755.0 562.9L756.7 560.4L758.4 557.9L760.0 555.4L761.5 552.8L763.1 550.2L764.5 547.6L766.0 545.0L767.4 542.3L768.7 539.6L770.0 536.8L771.3 534.1L772.6 531.3L773.8 528.6L775.0 525.8L776.2 523.0L777.4 520.2L778.5 517.4L779.7 514.6L780.8 511.8L781.9 509.0L783.0 506.2L784.0 503.4L785.1 500.6L786.1 497.8L787.1 494.9L788.1 492.1L789.1 489.3L790.0 486.4L791.0 483.6L791.9 480.8L792.9 477.9L793.8 475.1L794.7 472.2L795.6 469.4L796.5 466.5L797.4 463.6L798.3 460.8L799.1 457.9L800.0 455.1L800.9 452.2L801.7 449.3L802.6 446.5L803.4 443.6L804.2 440.7L805.1 437.9L805.9 435.0L806.7 432.1L807.6 429.3L808.4 426.4L809.2 423.5L810.0 420.6L810.9 417.8L811.7 414.9L812.5 412.0L813.3 409.1L814.1 406.3L815.0 403.4L815.8 400.5L816.6 397.6L817.4 394.7L818.2 391.8L819.0 388.9L819.9 386.1L820.7 383.2L821.5 380.3L822.3 377.4L823.1 374.5L823.9 371.5L824.7 368.6L825.5 365.7L826.3 362.8L827.1 359.9L828.0 356.9L828.8 354.0L829.6 351.1L830.4 348.2L831.2 345.2L832.0 342.3L832.8 339.4L833.6 336.4L834.4 333.5L835.2 330.6L836.1 327.7L836.9 324.8L837.7 321.9L838.5 319.1L839.3 316.2L840.1 313.4L841.0 310.5L841.8 307.7L842.6 304.9L843.4 302.1L844.3 299.3L845.1 296.6L845.9 293.8L846.8 291.0L847.7 288.2L848.5 285.4L849.4 282.6L850.3 279.8L851.2 277.0L852.1 274.2L853.0 271.3L854.0 268.4L854.9 265.4L855.9 262.5L856.9 259.5L858.0 256.5L859.0 253.5L860.2 250.5L861.4 247.5L862.7 244.7L864.1 241.9L865.7 239.2L867.4 236.6L869.3 234.1L871.3 231.9L873.5 229.8L875.9 227.9L878.5 226.3L881.2 225.1L883.9 224.3L886.7 224.0L889.6 224.2L892.4 224.9L895.2 226.0L897.8 227.4L900.4 229.0L902.8 230.7L905.1 232.7L907.3 234.8L909.4 237.0L911.4 239.3L913.3 241.7L915.2 244.2L917.0 246.7L918.7 249.3L920.4 251.9L922.1 254.5L923.8 257.1L925.4 259.8L927.0 262.4L928.6 265.0L930.1 267.6L931.7 270.2L933.2 272.9L934.8 275.5L936.3 278.1L937.8 280.7L939.3 283.3L940.8 285.9L942.3 288.5L943.8 291.1L945.3 293.7L946.8 296.2L948.4 298.8L949.9 301.3L951.5 303.9L953.1 306.4L954.7 308.9L956.3 311.4L957.9 313.8L959.6 316.3L961.3 318.7L963.1 321.2L964.8 323.6L966.6 325.9L968.4 328.3L970.3 330.6L972.2 333.0L974.1 335.3L976.0 337.6L977.9 339.8L979.9 342.1L981.9 344.3L984.0 346.5L986.0 348.7L988.1 350.8L990.2 352.9L992.3 355.1L994.5 357.1L996.7 359.2L998.9 361.3L1001.1 363.3L1003.3 365.3L1005.6 367.2L1007.9 369.2L1010.2 371.1L1012.5 373.0L1014.9 374.9L1017.3 376.7L1019.6 378.6L1022.1 380.3L1024.5 382.1L1026.9 383.9L1029.4 385.6L1031.9 387.3L1034.4 388.9L1036.9 390.6L1039.4 392.2L1042.0 393.8L1044.5 395.3L1047.1 396.8L1049.7 398.3L1052.3 399.8L1054.9 401.3L1057.6 402.7L1060.2 404.0L1062.9 405.4L1065.5 406.7L1068.2 408.0L1070.9 409.3L1073.7 410.6L1076.4 411.8L1079.1 413.0L1081.9 414.1L1084.6 415.3L1087.4 416.4L1090.2 417.5L1093.0 418.6L1095.8 419.6L1098.6 420.6L1101.4 421.6L1104.3 422.6L1107.1 423.6L1109.9 424.5L1112.8 425.4L1115.7 426.3L1118.6 427.1L1121.4 428.0L1124.3 428.8L1127.2 429.6L1130.1 430.4L1133.1 431.1L1136.0 431.9L1138.9 432.6L1141.8 433.3L1144.8 434.0L1147.7 434.6L1150.7 435.3L1153.6 435.9L1156.6 436.5L1159.5 437.1L1162.5 437.6L1165.5 438.2L1168.5 438.7L1171.4 439.3L1174.4 439.8L1177.4 440.2L1180.4 440.7L1183.4 441.2L1186.4 441.6L1189.4 442.0L1192.4 442.5L1195.4 442.9L1198.4 443.2L1201.4 443.6L1204.4 444.0L1207.4 444.3L1210.4 444.6L1213.4 445.0L1216.4 445.3L1219.4 445.6L1222.3 445.9L1225.3 446.1L1228.3 446.4L1231.3 446.6L1234.3 446.9L1237.3 447.1L1240.3 447.3L1243.3 447.5L1246.3 447.7L1249.3 447.9L1252.3 448.1L1255.2 448.2L1258.2 448.4L1261.2 448.5L1264.2 448.6L1267.2 448.7L1270.2 448.8L1273.1 448.9L1276.1 448.9L1279.1 449.0L1282.1 449.0L1285.1 449.1L1288.0 449.1L1291.0 449.1L1294.0 449.0L1297.0 449.0L1300.0 449.0L1302.9 448.9L1305.9 448.8L1308.9 448.8L1311.9 448.7L1314.9 448.5L1317.8 448.4L1320.8 448.3L1323.8 448.1L1326.8 447.9L1329.8 447.8L1332.7 447.6L1335.7 447.3L1338.7 447.1L1341.7 446.9L1344.7 446.6L1347.6 446.3L1350.6 446.0L1353.6 445.7L1356.6 445.4L1359.6 445.1L1362.6 444.7L1365.6 444.3L1368.6 444.0L1371.5 443.6L1374.5 443.1L1377.5 442.7L1380.5 442.3L1383.5 441.8L1386.5 441.3L1389.5 440.8L1392.5 440.3L1395.5 439.8L1398.5 439.2L1398.5 474.0L1398.7 477.1L1398.7 480.1L1398.4 483.1L1398.0 486.0L1397.3 488.9L1396.5 491.8L1395.5 494.6L1394.3 497.4L1393.0 500.0L1391.6 502.7L1389.9 505.2L1388.2 507.7L1386.4 510.1L1384.4 512.4L1382.3 514.6L1380.2 516.7L1377.9 518.7L1375.6 520.6L1373.3 522.4L1370.9 524.1L1368.4 525.7L1365.9 527.2L1363.3 528.6L1360.7 530.0L1358.0 531.2L1355.3 532.3L1352.6 533.4L1349.8 534.4L1347.0 535.3L1344.2 536.2L1341.3 537.0L1338.4 537.8L1335.5 538.5L1332.6 539.1L1329.6 539.8L1326.6 540.3L1323.7 540.9L1320.7 541.4L1317.7 541.9L1314.7 542.4L1311.6 542.8L1308.6 543.3L1305.6 543.7L1302.6 544.1L1299.6 544.6L1296.6 545.0L1293.6 545.4L1290.6 545.7L1287.6 546.1L1284.6 546.5L1281.6 546.9L1278.6 547.2L1275.6 547.6L1272.6 547.9L1269.7 548.3L1266.7 548.6L1263.7 548.9L1260.7 549.2L1257.7 549.5L1254.7 549.8L1251.7 550.1L1248.7 550.4L1245.7 550.7L1242.8 551.0L1239.8 551.3L1236.8 551.6L1233.8 551.8L1230.8 552.1L1227.8 552.3L1224.8 552.6L1221.9 552.9L1218.9 553.1L1215.9 553.4L1212.9 553.6L1209.9 553.8L1207.0 554.1L1204.0 554.3L1201.0 554.5L1198.0 554.8L1195.0 555.0L1192.0 555.2L1189.1 555.5L1186.1 555.7L1183.1 555.9L1180.1 556.1L1177.1 556.3L1174.2 556.6L1171.2 556.8L1168.2 557.0L1165.2 557.2L1162.2 557.5L1159.2 557.7L1156.3 557.9L1153.3 558.1L1150.3 558.3L1147.3 558.6L1144.3 558.8L1141.3 559.0L1138.3 559.3L1135.4 559.5L1132.4 559.7L1129.4 560.0L1126.4 560.2L1123.4 560.5L1120.4 560.7L1117.4 561.0L1114.4 561.2L1111.4 561.5L1108.4 561.8L1105.4 562.0L1102.4 562.3L1099.4 562.6L1096.5 562.8L1093.5 563.1L1090.5 563.4L1087.5 563.7L1084.5 564.0L1081.5 564.3L1078.5 564.6L1075.5 564.9L1072.5 565.3L1069.5 565.6L1066.5 565.9L1063.5 566.2L1060.5 566.6L1057.5 566.9L1054.5 567.3L1051.5 567.6L1048.5 568.0L1045.5 568.4L1042.6 568.8L1039.6 569.2L1036.6 569.6L1033.6 570.0L1030.6 570.4L1027.6 570.8L1024.6 571.3L1021.7 571.8L1018.7 572.3L1015.8 572.9L1012.8 573.5L1009.9 574.2L1007.0 574.9L1004.1 575.6L1001.3 576.4L998.4 577.3L995.6 578.2L992.8 579.2L990.1 580.3L987.3 581.4L984.6 582.7L982.0 584.0L979.3 585.4L976.7 586.9L974.1 588.5L971.6 590.1L969.1 591.9L966.6 593.7L964.2 595.6L961.9 597.5L959.6 599.5L957.3 601.5L955.1 603.6L952.9 605.8L950.8 607.9L948.8 610.2L946.8 612.4L944.9 614.7L943.0 617.0L941.1 619.4L939.4 621.7L937.6 624.1L935.9 626.6L934.3 629.1L932.7 631.6L931.1 634.1L929.6 636.6L928.1 639.2L926.7 641.8L925.3 644.4L923.9 647.1L922.6 649.7L921.3 652.4L920.1 655.1L918.8 657.8L917.6 660.6L916.5 663.3L915.3 666.1L914.2 668.9L913.1 671.7L912.0 674.5L911.0 677.3L909.9 680.2L908.9 683.0L907.9 685.9L906.9 688.7L906.0 691.6L905.0 694.5L904.1 697.3L903.2 700.2L902.3 703.1L901.3 706.0L900.4 708.9L899.5 711.8L898.7 714.7L897.8 717.6L896.9 720.4L896.0 723.3L895.1 726.2L894.3 729.1L893.4 732.0L892.5 734.9L891.7 737.8L890.8 740.6L889.9 743.5L889.1 746.4L888.2 749.3L887.4 752.2L886.5 755.0L885.7 757.9L884.8 760.8L884.0 763.7L883.2 766.5L882.3 769.4L881.5 772.3L880.7 775.2L879.8 778.0L879.0 780.9L878.2 783.8L877.3 786.7L876.5 789.5L875.7 792.4L874.8 795.3L874.0 798.1L873.2 801.0L872.4 803.9L871.5 806.7L870.7 809.6L869.9 812.5L869.0 815.3L868.2 818.2L867.4 821.1L866.6 823.9L865.7 826.8L864.9 829.7L864.1 832.5L863.2 835.4L862.4 838.3L861.6 841.1L860.7 844.0L859.9 846.9L859.0 849.7L858.2 852.6L857.4 855.5L856.5 858.3L855.7 861.2L854.8 864.1L854.0 867.0L853.2 869.8L852.3 872.7L851.5 875.6L850.7 878.5L849.8 881.4L849.0 884.3L848.2 887.2L847.3 890.1L846.5 893.0L845.7 895.9L844.8 898.8L844.0 901.7L843.2 904.6L842.4 907.5L841.5 910.5L840.7 913.4L839.9 916.3L839.1 919.3L838.3 922.2L837.4 925.1L836.5 928.0L835.5 930.9L834.5 933.8L833.4 936.6L832.1 939.4L830.8 942.1L829.4 944.8L827.8 947.4L826.1 950.0L824.3 952.5L822.3 954.9L820.1 957.2L817.8 959.3L815.4 961.1L812.8 962.6L810.2 963.6L807.5 964.2L804.7 964.3L801.9 963.8L799.1 962.8L796.4 961.4L793.7 959.7L791.2 957.7L788.8 955.5L786.5 953.3L784.4 951.0L782.4 948.6L780.5 946.2L778.7 943.7L777.0 941.2L775.3 938.8L773.6 936.3L771.9 933.8L770.2 931.3L768.6 928.8L766.9 926.3L765.3 923.8L763.7 921.3L762.0 918.8L760.4 916.3L758.8 913.9L757.2 911.4L755.6 908.9L753.9 906.4L752.3 904.0L750.7 901.5L749.0 899.0L747.4 896.6L745.8 894.1L744.1 891.7L742.4 889.2L740.8 886.8L739.1 884.3L737.4 881.9L735.7 879.5L734.0 877.0L732.2 874.6L730.5 872.2L728.7 869.8L726.9 867.4L725.1 865.0L723.3 862.6L721.5 860.2L719.6 857.8L717.7 855.5L715.8 853.1L713.9 850.8L711.9 848.4L709.9 846.1L707.9 843.8L705.9 841.5L703.8 839.3L701.7 837.1L699.6 834.9L697.5 832.7L695.3 830.5L693.1 828.4L690.9 826.4L688.6 824.4L686.3 822.4L684.0 820.4L681.7 818.5L679.3 816.7L676.9 814.9L674.5 813.2L672.0 811.5L669.5 809.8L667.0 808.2L664.5 806.6L661.9 805.1L659.4 803.6L656.8 802.2L654.1 800.8L651.5 799.4L648.8 798.1L646.2 796.8L643.5 795.5L640.7 794.3L638.0 793.1L635.2 791.9L632.5 790.8L629.7 789.6L626.9 788.5L624.1 787.5L621.3 786.4L618.5 785.4L615.7 784.4L612.8 783.4L610.0 782.4L607.1 781.5L604.3 780.5L601.4 779.6L598.5 778.7L595.7 777.8L592.8 776.9L589.9 776.0L587.0 775.2L584.2 774.3L581.3 773.5L578.4 772.7L575.5 771.8L572.6 771.0L569.7 770.3L566.8 769.5L563.9 768.7L561.0 768.0L558.1 767.2L555.2 766.5L552.2 765.8L549.3 765.1L546.4 764.4L543.5 763.8L540.6 763.1L537.6 762.5L534.7 761.9L531.7 761.3L528.8 760.7L525.9 760.1L522.9 759.6L520.0 759.1L517.0 758.5L514.1 758.0L511.1 757.5L508.1 757.1L505.2 756.6L502.2 756.2L499.3 755.8L496.3 755.4L493.3 755.0L490.3 754.6L487.3 754.3L484.4 753.9L481.4 753.6L478.4 753.3L475.4 753.1L472.4 752.8L469.4 752.6L466.4 752.4L463.4 752.2L460.4 752.0L457.4 751.8L454.4 751.7L451.4 751.6L448.4 751.5L445.3 751.4L442.3 751.4L439.3 751.3L436.3 751.3L433.2 751.3L430.2 751.4L427.2 751.4L424.2 751.5L421.1 751.7L418.1 751.9L415.1 752.1L412.1 752.4L409.2 752.7L406.2 753.1L403.3 753.6L400.3 754.1L397.4 754.7L394.5 755.3L391.7 756.1L388.8 756.9L386.0 757.8L383.3 758.8L380.5 759.9L377.8 761.1L375.1 762.4L372.5 763.7L369.9 765.2L367.3 766.9L364.8 768.6L362.3 770.4L359.9 772.4L359.1 744.0" stroke="#00f" stroke-width="7.9"/>
</g>
<g stroke="#000" fill="none">
<path d="M275.0 68.0H1467.0" stroke-width="4.0"/>
<path d="M293.5 68.0V1022.0" stroke-width="5.0"/>
<path d="M293.0 1021.0H1467.0" stroke-width="4.0"/>
<path d="M1464.5 68.0V1021.0" stroke-width="5.0"/>
<path d="M275.0 251.0H293.5" stroke-width="5.0"/>
<path d="M275.0 434.3H293.5" stroke-width="5.0"/>
<path d="M275.0 617.6H293.5" stroke-width="5.0"/>
<path d="M275.0 801.0H293.5" stroke-width="5.0"/>
<path d="M275.0 984.3H293.5" stroke-width="5.0"/>
<path d="M284.0 159.3H293.5" stroke-width="5.0"/>
<path d="M284.0 342.7H293.5" stroke-width="5.0"/>
<path d="M284.0 526.0H293.5" stroke-width="5.0"/>
<path d="M284.0 709.3H293.5" stroke-width="5.0"/>
<path d="M284.0 892.6H293.5" stroke-width="5.0"/>
<path d="M358.5 1021.0V1039.0" stroke-width="5.0"/>
<path d="M618.8 1021.0V1039.0" stroke-width="5.0"/>
<path d="M879.0 1021.0V1039.0" stroke-width="5.0"/>
<path d="M1139.2 1021.0V1039.0" stroke-width="5.0"/>
<path d="M1399.5 1021.0V1039.0" stroke-width="5.0"/>
<path d="M488.6 1021.0V1029.8" stroke-width="5.0"/>
<path d="M748.9 1021.0V1029.8" stroke-width="5.0"/>
<path d="M1009.1 1021.0V1029.8" stroke-width="5.0"/>
<path d="M1269.4 1021.0V1029.8" stroke-width="5.0"/>
</g>
<path d="M309 133.4H435" stroke="#000" stroke-width="7.4"/>
<path d="M309 201.8H435" stroke="#f00" stroke-width="8"/>
<path d="M309 270.8H435" stroke="#00f" stroke-width="8"/>
<g font-family="'Liberation Sans', Arial, sans-serif" font-size="56.0" fill="#000">
<text transform="translate(450.3 153.0) scale(1.000 1.035)" text-anchor="start">GCE</text>
<text transform="translate(450.3 221.3) scale(1.000 1.035)" text-anchor="start">GCE/ERGO</text>
<text transform="translate(450.3 289.7) scale(1.000 1.035)" text-anchor="start">GCE/ERGO-Ni</text>
</g>
<g font-family="'Liberation Sans', Arial, sans-serif" font-size="96.0" fill="#000" style="font-kerning:none">
<text transform="translate(0 96.0) scale(1.010 1.035)" x="154.60 208.00">30</text>
<text transform="translate(0 279.3) scale(1.010 1.035)" x="154.60 208.00">20</text>
<text transform="translate(0 462.6) scale(1.010 1.035)" x="157.43 208.00">10</text>
<rect x="164.0" y="453.2" width="18.9" height="10.6" fill="#fff"/>
<rect x="192.2" y="453.2" width="18.0" height="10.6" fill="#fff"/>
<text transform="translate(0 645.9) scale(1.010 1.035)" x="208.00">0</text>
<text transform="translate(0 829.3) scale(1.010 1.035)" x="122.48 157.43 208.00" dy="0.87 -0.87">-10</text>
<rect x="164.0" y="819.9" width="18.9" height="10.6" fill="#fff"/>
<rect x="192.2" y="819.9" width="18.0" height="10.6" fill="#fff"/>
<text transform="translate(0 1012.6) scale(1.010 1.035)" x="122.48 154.60 208.00" dy="0.87 -0.87">-20</text>
<text transform="translate(0 1125.8) scale(1.010 1.035)" x="271.74 301.98 355.37 382.04" dy="0.87 -0.87">-0.2</text>
<text transform="translate(0 1125.8) scale(1.010 1.035)" x="545.90 599.29 625.96">0.0</text>
<text transform="translate(0 1125.8) scale(1.010 1.035)" x="803.57 856.96 883.63">0.2</text>
<text transform="translate(0 1125.8) scale(1.010 1.035)" x="1061.24 1114.63 1141.31">0.4</text>
<text transform="translate(0 1125.8) scale(1.010 1.035)" x="1318.92 1372.31 1398.98">0.6</text>
<text transform="translate(630.0 1226.6) scale(0.997 1.035)"><tspan font-style="italic">E</tspan> <tspan font-size="91.6" dx="0.6">/</tspan> V vs.SCE</text>
<text transform="translate(97.3 586.0) rotate(-90) scale(0.981 1.035)" text-anchor="middle"><tspan font-style="italic">I</tspan> <tspan font-size="91.6" dx="0.6">/</tspan> uA</text>
</g>
</svg>
</body>
</html>
